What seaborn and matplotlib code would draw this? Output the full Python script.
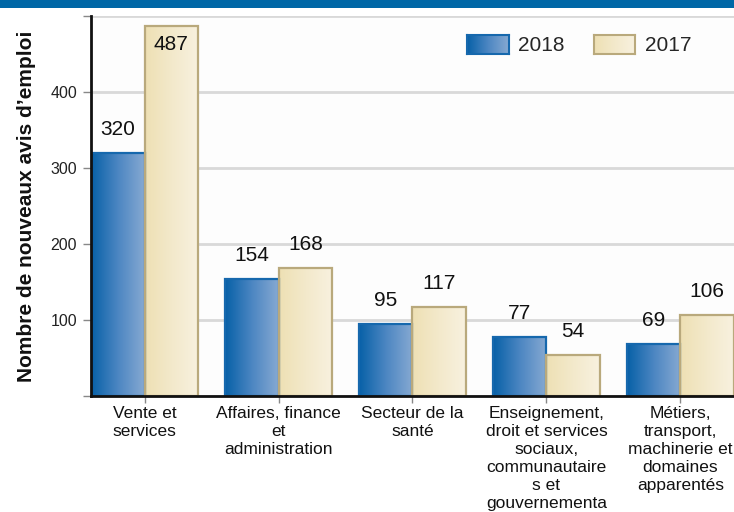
import numpy as np
import pandas as pd
import matplotlib
matplotlib.use("Agg")
import matplotlib.pyplot as plt
from matplotlib.colors import LinearSegmentedColormap
from matplotlib.patches import Rectangle, Patch
import seaborn as sns

categories = [
    "Vente et\nservices",
    "Affaires, finance\net\nadministration",
    "Secteur de la\nsanté",
    "Enseignement,\ndroit et services\nsociaux,\ncommunautaire\ns et\ngouvernementa",
    "Métiers,\ntransport,\nmachinerie et\ndomaines\napparentés",
]
years = ["2018", "2017"]
values_2018 = [320, 154, 95, 77, 69]
values_2017 = [487, 168, 117, 54, 106]
y_ticks = [0, 100, 200, 300, 400, 500]
y_ticklabels = ["", "100", "200", "300", "400", ""]

df = pd.DataFrame({
    "cat": categories * 2,
    "year": ["2018"] * 5 + ["2017"] * 5,
    "val": values_2018 + values_2017,
})

sns.set_theme(style="white")
plt.rcParams["font.family"] = ["Liberation Sans", "DejaVu Sans"]

fig = plt.figure(figsize=(7.34, 5.12), dpi=100)
fig.patches.append(Rectangle((0, 1 - 8 / 512), 1, 8 / 512, transform=fig.transFigure,
                             facecolor="#0067a6", edgecolor="none", zorder=0))
ax = fig.add_axes([91 / 734, 116 / 512, 643 / 734, 380 / 512])
ax.set_facecolor("#fdfdfd")

sns.barplot(data=df, x="cat", y="val", hue="year", hue_order=years,
            palette={"2018": "#2f74b5", "2017": "#f2e7c6"}, saturation=1,
            width=0.8, legend=False, ax=ax, zorder=3)

cmaps = {
    "2018": LinearSegmentedColormap.from_list("b", ["#0861a8", "#4c86c2", "#86a9d2"]),
    "2017": LinearSegmentedColormap.from_list("y", ["#eee0b4", "#f3e9cb", "#f8f1df"]),
}
edges = {"2018": "#1668ad", "2017": "#b9a97c"}
grad = np.linspace(0, 1, 64).reshape(1, -1)
for i, p in enumerate(ax.patches):
    yr = years[0] if i < 5 else years[1]
    x0, w, h = p.get_x(), p.get_width(), p.get_height()
    im = ax.imshow(grad, extent=[x0, x0 + w, 0, h], aspect="auto",
                   cmap=cmaps[yr], zorder=3, origin="lower")
    im.set_clip_path(p)
    p.set_facecolor("none")
    p.set_edgecolor(edges[yr])
    p.set_linewidth(1.6)
    p.set_zorder(4)
    label_y = min(h + 31, 462)
    ax.text(x0 + w / 2, label_y, f"{int(h)}", ha="center", va="center",
            fontsize=15, color="#111111", zorder=5)

ax.set_xlim(-0.4, 4.4)
ax.set_ylim(0, 500)
ax.set_yticks(y_ticks)
ax.set_yticklabels(y_ticklabels, fontsize=11.5, color="#222222")
ax.tick_params(axis="x", labelsize=12.5, colors="#111111", length=5, width=1,
               color="#888888", pad=2, bottom=True)
ax.tick_params(axis="y", length=6, width=1, color="#888888", left=True, pad=4)
for lab in ax.get_xticklabels():
    lab.set_linespacing(1.26)
    lab.set_va("top")
ax.yaxis.grid(True, color="#d9d9d9", linewidth=2, zorder=0)
ax.set_axisbelow(True)
for s in ["top", "right"]:
    ax.spines[s].set_visible(False)
for s in ["left", "bottom"]:
    ax.spines[s].set_color("#111111")
    ax.spines[s].set_linewidth(2)
    ax.spines[s].set_zorder(6)
ax.set_xlabel("")
ax.set_ylabel("Nombre de nouveaux avis d’emploi", fontsize=15, fontweight="bold",
              color="#111111", labelpad=10)

handles = [Patch(facecolor="#3a7bbd", edgecolor=edges["2018"], linewidth=1.5),
           Patch(facecolor="#f3e9cb", edgecolor=edges["2017"], linewidth=1.5)]
leg = fig.legend(handles, years, loc="upper left", bbox_to_anchor=(467 / 734, 1 - 35 / 512),
                 bbox_transform=fig.transFigure, ncol=2, frameon=False, fontsize=15,
                 handlelength=2.0, handleheight=1.0, handletextpad=0.45,
                 columnspacing=1.4, borderpad=0, borderaxespad=0)

# gradient fill for the legend swatches
fig.canvas.draw()
renderer = fig.canvas.get_renderer()
inv = fig.transFigure.inverted()
for yr, lp in zip(years, leg.get_patches()):
    bb = lp.get_window_extent(renderer).transformed(inv)
    lp.set_visible(False)
    sw = fig.add_axes([bb.x0, bb.y0, bb.width, bb.height])
    sw.set_zorder(10)
    sw.imshow(grad, aspect="auto", cmap=cmaps[yr])
    sw.set_xticks([])
    sw.set_yticks([])
    for s in sw.spines.values():
        s.set_color(edges[yr])
        s.set_linewidth(1.5)

fig.savefig("out.png", dpi=100)
